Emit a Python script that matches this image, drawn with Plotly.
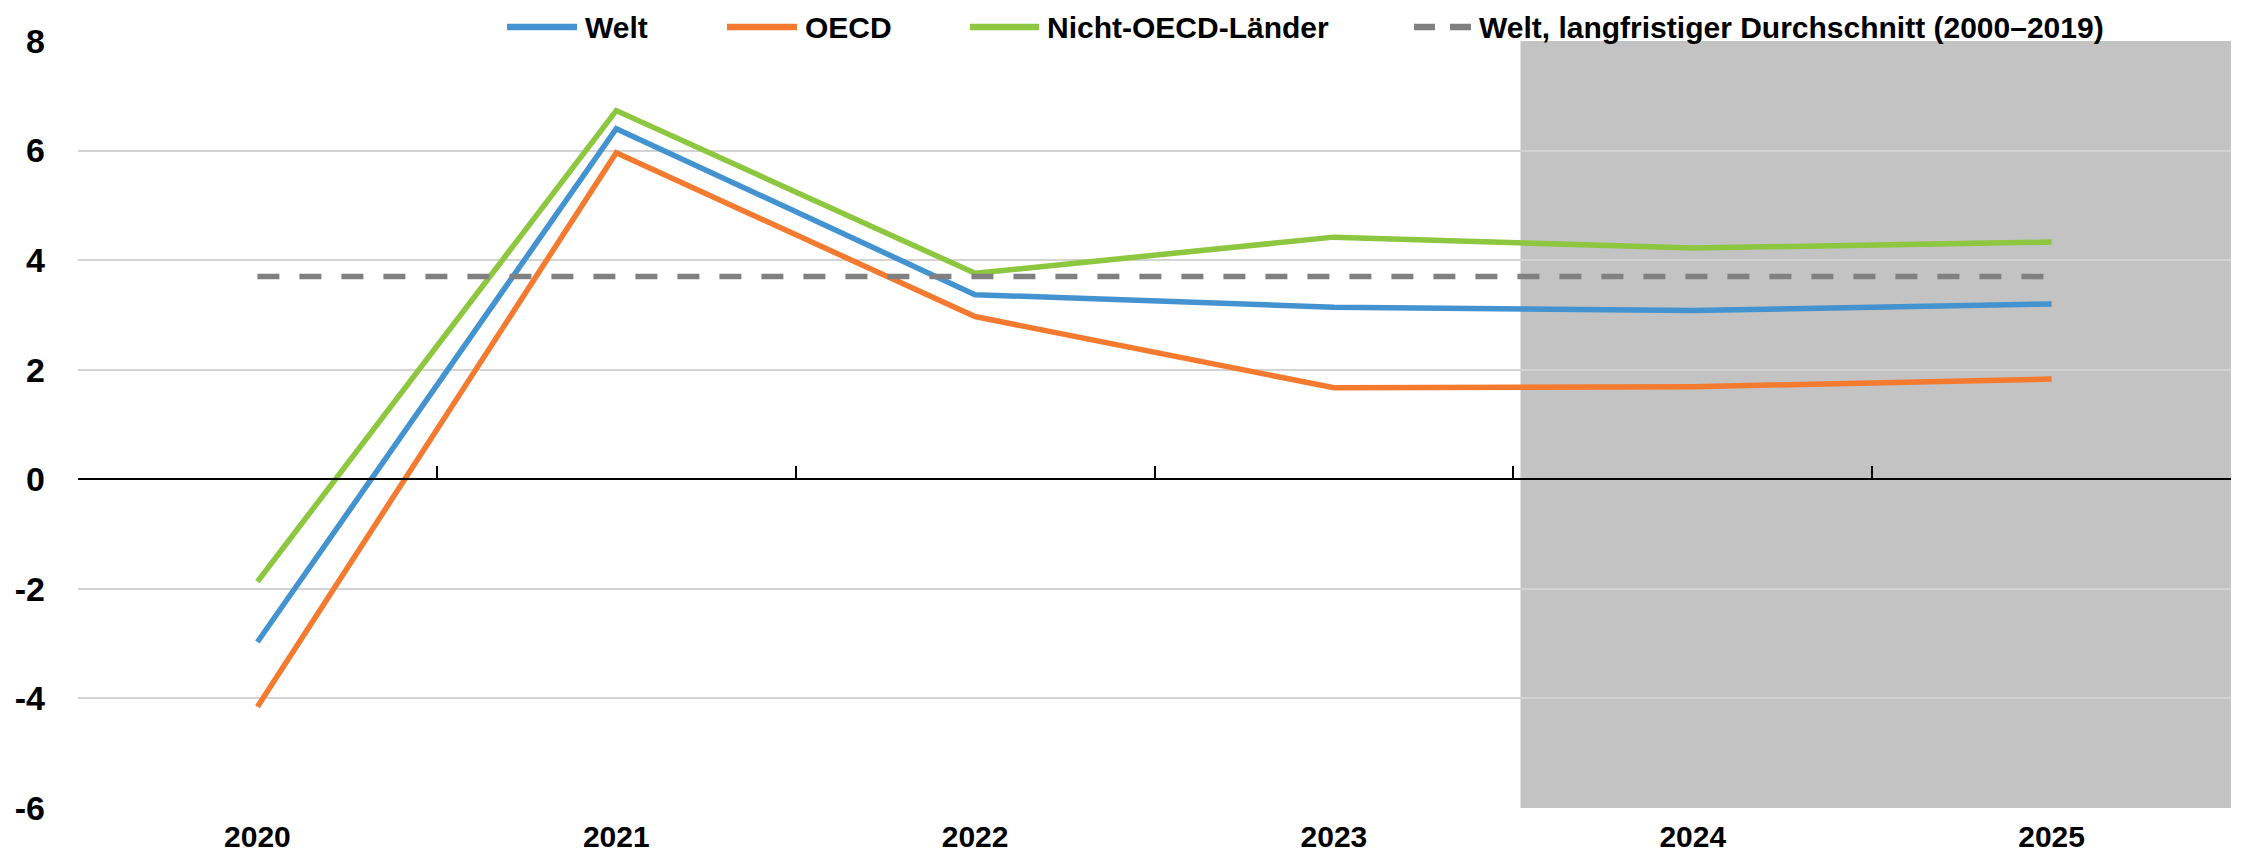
import plotly.graph_objects as go

# Real GDP growth, % (2024–2025 are projections)
years = ["2020", "2021", "2022", "2023", "2024", "2025"]
welt = [-2.97, 6.40, 3.37, 3.14, 3.08, 3.20]
oecd = [-4.15, 5.96, 2.97, 1.67, 1.69, 1.83]
nicht_oecd = [-1.87, 6.73, 3.76, 4.42, 4.22, 4.33]
welt_durchschnitt = [3.70] * len(years)

y_ticks = [-6, -4, -2, 0, 2, 4, 6, 8]
y_tick_labels = ["-6", "-4", "-2", "0", "2", "4", "6", "8"]

series_names = ["Welt", "OECD", "Nicht-OECD-Länder",
                "Welt, langfristiger Durchschnitt (2000–2019)"]
colors = ["#4393D0", "#F47A30", "#8DC63F", "#808080"]
dashes = ["solid", "solid", "solid", "22px,20px"]

FONT = "Liberation Sans, Arial, sans-serif"
LINE_W = 5.5

fig = go.Figure()

for name, vals, col, dash in zip(series_names,
                                 [welt, oecd, nicht_oecd, welt_durchschnitt],
                                 colors, dashes):
    fig.add_trace(go.Scatter(
        x=years, y=vals, name=name, mode="lines", showlegend=False,
        line=dict(color=col, width=LINE_W, dash=dash),
    ))

# zero line with boundary ticks (tick marks pointing upward)
fig.add_trace(go.Scatter(x=years, y=[None] * len(years), xaxis="x2",
                         showlegend=False, hoverinfo="skip"))

# projection period shading
fig.add_shape(type="rect", xref="x", yref="paper", x0=3.52, x1=5.5, y0=0, y1=1,
              fillcolor="#C3C3C3", line=dict(width=0), layer="below")

# legend row above the plot: key line start (px from plot left) and key length
legend_key_x = [429, 649, 892, 1336]
legend_key_len = [70, 70, 69, 57]
legend_key_dash = ["solid", "solid", "solid", "21px,15px"]
LEGEND_Y = 14  # px above the top of the plot area

for name, col, x0, ln, dash in zip(series_names, colors, legend_key_x,
                                   legend_key_len, legend_key_dash):
    fig.add_shape(type="line", xref="paper", yref="paper",
                  xsizemode="pixel", ysizemode="pixel", xanchor=0, yanchor=1,
                  x0=x0, x1=x0 + ln, y0=LEGEND_Y, y1=LEGEND_Y,
                  line=dict(color=col, width=LINE_W + 1, dash=dash))
    fig.add_annotation(text=name, xref="paper", yref="paper", x=0, y=1,
                       xanchor="left", yanchor="middle",
                       xshift=x0 + ln + 6, yshift=LEGEND_Y,
                       showarrow=False,
                       font=dict(family=FONT, size=30, color="black",
                                 weight="bold"))

y_min, y_max = -6, 8
zero_pos = (0 - y_min) / (y_max - y_min)

fig.update_layout(
    width=2242, height=864,
    margin=dict(l=78, r=11, t=41, b=50),
    paper_bgcolor="white", plot_bgcolor="white",
    font=dict(family=FONT, size=30, color="black"),
    showlegend=False,
    xaxis=dict(
        type="category", range=[-0.5, 5.5],
        showgrid=False, showline=False, zeroline=False, ticks="",
        tickfont=dict(family=FONT, size=30, weight="bold"),
        ticklabelstandoff=8,
    ),
    xaxis2=dict(
        type="category", range=[-0.5, 5.5], overlaying="x", anchor="free",
        position=zero_pos, side="bottom",
        showline=True, linecolor="black", linewidth=2,
        ticks="inside", tickson="boundaries", ticklen=12, tickwidth=2,
        tickcolor="black", showticklabels=False, showgrid=False, zeroline=False,
        matches="x",
    ),
    yaxis=dict(
        range=[y_min, y_max], tickvals=y_ticks, ticktext=y_tick_labels,
        showgrid=True, gridcolor="#D3D3D3", gridwidth=2,
        zeroline=False, showline=False, ticks="",
        tickfont=dict(family=FONT, size=34, weight="bold"),
        ticklabelstandoff=32,
    ),
)

fig.write_html("out.html")
